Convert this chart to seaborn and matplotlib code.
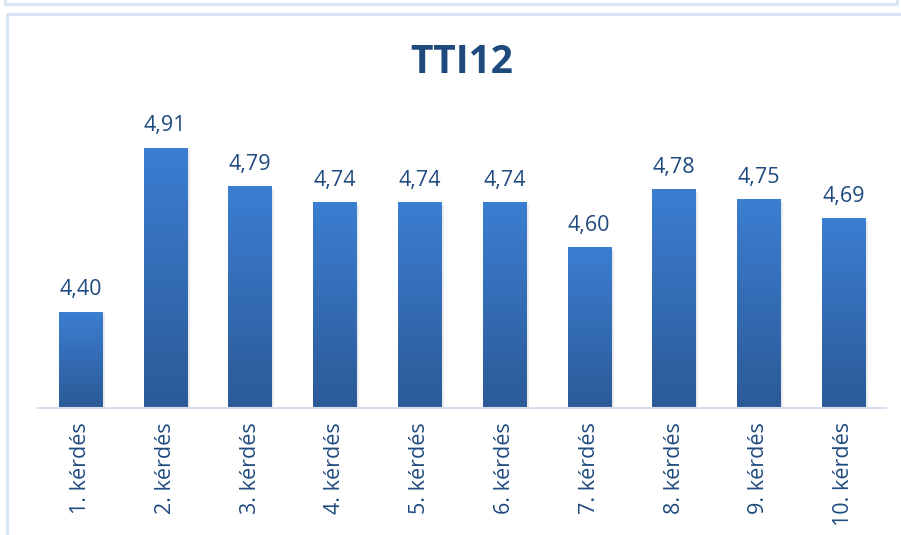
import matplotlib
matplotlib.use("Agg")
import matplotlib.pyplot as plt
import matplotlib.patheffects as pe
from matplotlib.colors import LinearSegmentedColormap
from matplotlib.lines import Line2D
import numpy as np
import seaborn as sns

categories = ["1. kérdés", "2. kérdés", "3. kérdés", "4. kérdés", "5. kérdés",
              "6. kérdés", "7. kérdés", "8. kérdés", "9. kérdés", "10. kérdés"]
values = [4.40, 4.91, 4.79, 4.74, 4.74, 4.74, 4.60, 4.78, 4.75, 4.69]
title = "TTI12"

text_color = "#1F4A7E"
top_color = "#3C7ED2"
bottom_color = "#2B5A96"
frame_color = "#D5E3F4"

sns.set_style("white")
plt.rcParams["font.family"] = ["Open Sans", "DejaVu Sans"]

fig = plt.figure(figsize=(9.01, 5.35), dpi=100)
ax = fig.add_axes([38 / 901, 1 - 408 / 535, 848 / 901, (408 - 118.6) / 535])

sns.barplot(x=categories, y=values, color=bottom_color, width=0.51,
            saturation=1, ax=ax)

ymin, ymax = 4.1, 5.0
grad = LinearSegmentedColormap.from_list("bar", [bottom_color, top_color])
shade = np.linspace(0, 1, 256).reshape(-1, 1)
for bar in ax.patches:
    bar.set_edgecolor("none")
    bar.set_path_effects([pe.SimplePatchShadow(offset=(2, -2), shadow_rgbFace="#b0b0b0", alpha=0.25),
                          pe.Normal()])
    x0 = bar.get_x()
    x1 = x0 + bar.get_width()
    h = bar.get_height()
    img = ax.imshow(shade, cmap=grad, origin="lower", aspect="auto",
                    extent=[x0, x1, ymin, h], zorder=bar.get_zorder() + 0.1)
    img.set_clip_path(bar)

ax.set_xlim(-0.5, len(categories) - 0.5)
ax.set_ylim(ymin, ymax)

labels = [f"{v:.2f}".replace(".", ",") for v in values]
ax.bar_label(ax.containers[0], labels=labels, padding=8, fontsize=15.5,
             color=text_color)

ax.set_yticks([])
ax.set_xlabel("")
ax.set_ylabel("")
ax.tick_params(axis="x", length=0, pad=10, labelsize=15.5, labelcolor=text_color,
               labelrotation=90)
for side in ["top", "left", "right"]:
    ax.spines[side].set_visible(False)
ax.spines["bottom"].set_color("#D4DEEC")
ax.spines["bottom"].set_linewidth(1.5)

fig.text(462 / 901, 1 - 62 / 535, title, ha="center", va="center",
         fontsize=28, fontweight="bold", color="#1F4A7E")

# chart frames (this chart and the bottom of the one above)
def fline(xs, ys):
    fig.add_artist(Line2D([x / 901 for x in xs], [1 - y / 535 for y in ys],
                          transform=fig.transFigure, color=frame_color, linewidth=2))

fline([7, 7, 901], [535, 14, 14])
fline([5, 5, 897, 897], [0, 4, 4, 0])

fig.savefig("out.png", dpi=100)
